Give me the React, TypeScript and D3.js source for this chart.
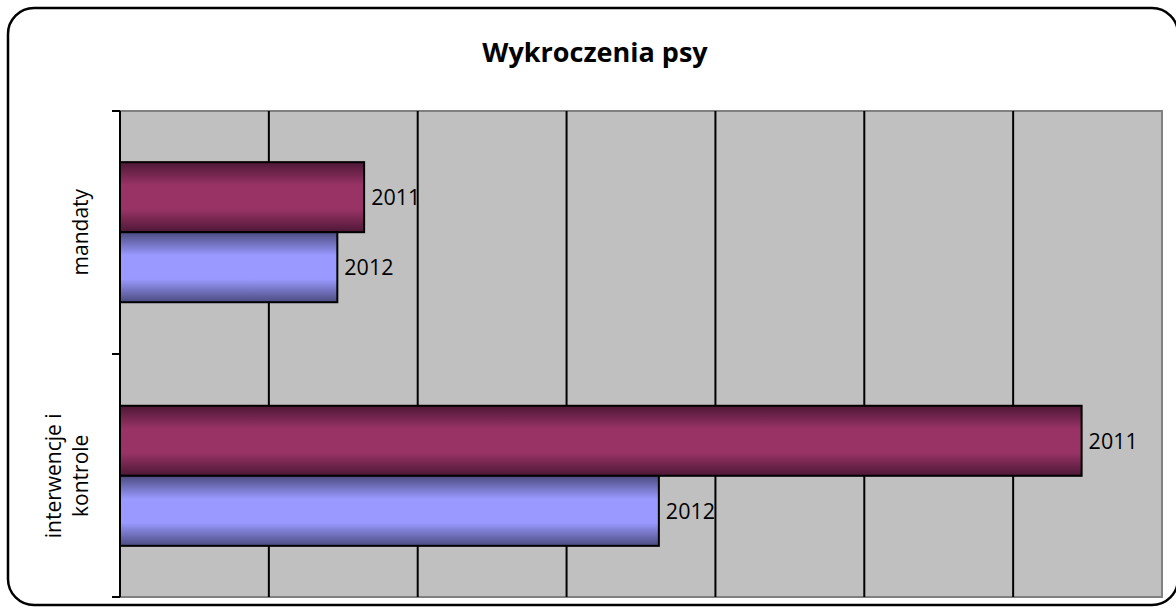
import React from 'react';
import * as d3 from 'd3';

const W = 1176;
const H = 613;

const title = 'Wykroczenia psy';
const categories = ['mandaty', 'interwencje i kontrole'];
const categoryLines = [['mandaty'], ['interwencje i', 'kontrole']];
const series = ['2011', '2012'];
const values2011 = [82, 323];
const values2012 = [73, 181];
const xTicks = [0, 50, 100, 150, 200, 250, 300, 350];

const plot = { left: 120, right: 1162, top: 111, bottom: 597 };
const font = '"Open Sans", sans-serif';

const gradients = [
  { id: 'g2011', edge: '#4d1836', mid: '#993366' },
  { id: 'g2012', edge: '#4b4b80', mid: '#9999ff' },
];

export default function App() {
  const x = d3.scaleLinear().domain([0, 350]).range([plot.left, plot.right]);
  const y = d3
    .scaleBand<string>()
    .domain(categories)
    .range([plot.top, plot.bottom])
    .paddingInner(0.425)
    .paddingOuter(0.21);
  const inner = d3.scaleBand<string>().domain(series).range([0, y.bandwidth()]);

  const rows = categories.map((c, i) => ({ cat: c, vals: [values2011[i], values2012[i]] }));
  const catTicks = [plot.top, (plot.top + plot.bottom) / 2, plot.bottom];

  return (
    <svg width={W} height={H} style={{ position: 'absolute', left: 0, top: 0 }}>
      <defs>
        {gradients.map((g) => (
          <linearGradient key={g.id} id={g.id} x1="0" y1="0" x2="0" y2="1">
            <stop offset="0" stopColor={g.edge} />
            <stop offset="0.33" stopColor={g.mid} />
            <stop offset="0.67" stopColor={g.mid} />
            <stop offset="1" stopColor={g.edge} />
          </linearGradient>
        ))}
      </defs>
      <rect x={0} y={0} width={W} height={H} fill="#fff" />
      <rect x={8} y={8} width={1170} height={597} rx={26} fill="#fff" stroke="#000" strokeWidth={2.5} />

      <text x={595} y={62} textAnchor="middle" fontFamily={font} fontWeight="bold" fontSize={27}>
        {title}
      </text>

      {/* plot area */}
      <rect x={plot.left} y={plot.top} width={plot.right - plot.left} height={plot.bottom - plot.top} fill="#c0c0c0" stroke="#808080" strokeWidth={2} />
      {xTicks.slice(1, -1).map((t) => (
        <line key={t} x1={x(t)} x2={x(t)} y1={plot.top} y2={plot.bottom} stroke="#000" strokeWidth={2} />
      ))}

      {rows.map((r) =>
        r.vals.map((v, j) => {
          const by = (y(r.cat) as number) + (inner(series[j]) as number);
          const bh = inner.bandwidth();
          return (
            <g key={r.cat + j}>
              <rect x={x(0)} y={by} width={x(v) - x(0)} height={bh} fill={`url(#${gradients[j].id})`} stroke="#000" strokeWidth={2} />
              <text x={x(v) + 7} y={by + bh / 2} dy="0.36em" fontFamily={font} fontSize={21.5} fill="#000">
                {series[j]}
              </text>
            </g>
          );
        })
      )}

      {/* category axis */}
      <line x1={plot.left} x2={plot.left} y1={plot.top} y2={plot.bottom} stroke="#000" strokeWidth={2} />
      {catTicks.map((t) => (
        <line key={t} x1={plot.left - 8} x2={plot.left} y1={t} y2={t} stroke="#000" strokeWidth={2} />
      ))}
      {categories.map((c, i) => {
        const cy = (y(c) as number) + y.bandwidth() / 2;
        const lines = categoryLines[i];
        const baseX = 88;
        return (
          <text key={c} transform={`translate(${baseX},${cy}) rotate(-90)`} textAnchor="middle" fontFamily={font} fontSize={21} fill="#000">
            {lines.map((l, k) => (
              <tspan key={k} x={0} y={(k - (lines.length - 1)) * 27}>
                {l}
              </tspan>
            ))}
          </text>
        );
      })}
    </svg>
  );
}
